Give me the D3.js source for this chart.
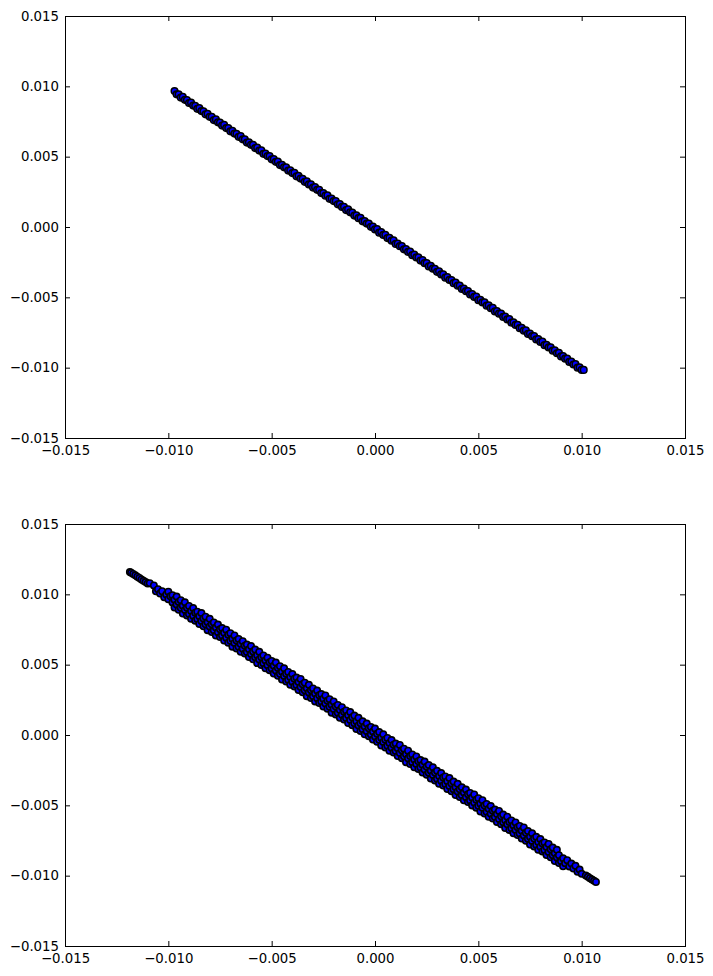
<!DOCTYPE html>
<html>
<head>
<meta charset="utf-8">
<script src="https://cdn.jsdelivr.net/npm/d3@7"></script>
<style>
  html, body { margin: 0; padding: 0; background: #ffffff; }
  svg { display: block; }
  text { font-family: "DejaVu Sans", sans-serif; }
</style>
</head>
<body>
<div id="chart"></div>
<script>
// ---------- data ----------
const tickValues = [-0.015, -0.010, -0.005, 0.000, 0.005, 0.010, 0.015];

// ----- top panel (narrow line of points) -----
const topX1 = [-0.0097,-0.0095,-0.0093,-0.0091,-0.0089,-0.0087,-0.0085,-0.0083,-0.0081,-0.0079,
  -0.0077,-0.0075,-0.0073,-0.0071,-0.0069,-0.0067,-0.0065,-0.0063,-0.0061,-0.0059,
  -0.0057,-0.0055,-0.0053,-0.0051,-0.0049,-0.0047,-0.0045,-0.0043,-0.0041,-0.0039,
  -0.0037,-0.0035,-0.0033,-0.0031,-0.0029,-0.0027,-0.0025,-0.0023,-0.0021,-0.0019,
  -0.0017,-0.0015,-0.0013,-0.0011,-0.0009,-0.0007,-0.0005,-0.0003,-0.0001,0.0001,
  0.0003,0.0005,0.0007,0.0009,0.0011,0.0013,0.0015,0.0017,0.0019,0.0021,
  0.0023,0.0025,0.0027,0.0029,0.0031,0.0033,0.0035,0.0037,0.0039,0.0041,
  0.0043,0.0045,0.0047,0.0049,0.0051,0.0053,0.0055,0.0057,0.0059,0.0061,
  0.0063,0.0065,0.0067,0.0069,0.0071,0.0073,0.0075,0.0077,0.0079,0.0081,
  0.0083,0.0085,0.0087,0.0089,0.0091,0.0093,0.0095,0.0097,0.0099,0.0101];
const topY1 = [0.00966,0.00943,0.00925,0.00902,0.00884,0.00862,0.00845,0.00822,0.00805,0.00783,
  0.00765,0.00742,0.00726,0.00703,0.00684,0.00663,0.00646,0.00624,0.00603,0.00585,
  0.00564,0.00545,0.00523,0.00505,0.00483,0.00465,0.00442,0.00425,0.00403,0.00386,
  0.00364,0.00343,0.00325,0.00303,0.00284,0.00265,0.00242,0.00225,0.00203,0.00185,
  0.00163,0.00144,0.00125,0.00103,0.00084,0.00065,0.00043,0.00025,0.00004,-0.00015,
  -0.00036,-0.00055,-0.00077,-0.00095,-0.00117,-0.00135,-0.00157,-0.00175,-0.00196,-0.00216,
  -0.00235,-0.00257,-0.00275,-0.00297,-0.00315,-0.00337,-0.00355,-0.00377,-0.00395,-0.00416,
  -0.00437,-0.00455,-0.00477,-0.00495,-0.00517,-0.00535,-0.00557,-0.00575,-0.00597,-0.00615,
  -0.00637,-0.00655,-0.00677,-0.00695,-0.00717,-0.00735,-0.00757,-0.00775,-0.00797,-0.00815,
  -0.00837,-0.00855,-0.00877,-0.00895,-0.00917,-0.00935,-0.00957,-0.00975,-0.00997,-0.01016];
const topX2 = [-0.0096,-0.0094,-0.0092,-0.0090,-0.0088,-0.0086,-0.0084,-0.0082,-0.0080,-0.0078,
  -0.0076,-0.0074,-0.0072,-0.0070,-0.0068,-0.0066,-0.0064,-0.0062,-0.0060,-0.0058,
  -0.0056,-0.0054,-0.0052,-0.0050,-0.0048,-0.0046,-0.0044,-0.0042,-0.0040,-0.0038,
  -0.0036,-0.0034,-0.0032,-0.0030,-0.0028,-0.0026,-0.0024,-0.0022,-0.0020,-0.0018,
  -0.0016,-0.0014,-0.0012,-0.0010,-0.0008,-0.0006,-0.0004,-0.0002,0.0000,0.0002,
  0.0004,0.0006,0.0008,0.0010,0.0012,0.0014,0.0016,0.0018,0.0020,0.0022,
  0.0024,0.0026,0.0028,0.0030,0.0032,0.0034,0.0036,0.0038,0.0040,0.0042,
  0.0044,0.0046,0.0048,0.0050,0.0052,0.0054,0.0056,0.0058,0.0060,0.0062,
  0.0064,0.0066,0.0068,0.0070,0.0072,0.0074,0.0076,0.0078,0.0080,0.0082,
  0.0084,0.0086,0.0088,0.0090,0.0092,0.0094,0.0096,0.0098,0.0100];
const topY2 = [0.00943,0.00920,0.00904,0.00881,0.00863,0.00840,0.00824,0.00801,0.00783,0.00760,
  0.00744,0.00721,0.00703,0.00680,0.00664,0.00641,0.00623,0.00600,0.00584,0.00561,
  0.00543,0.00520,0.00504,0.00481,0.00463,0.00440,0.00424,0.00401,0.00383,0.00360,
  0.00344,0.00321,0.00303,0.00280,0.00264,0.00241,0.00223,0.00200,0.00184,0.00161,
  0.00143,0.00120,0.00104,0.00081,0.00063,0.00040,0.00024,0.00001,-0.00017,-0.00040,
  -0.00056,-0.00079,-0.00097,-0.00120,-0.00136,-0.00159,-0.00177,-0.00200,-0.00216,-0.00239,
  -0.00257,-0.00280,-0.00296,-0.00319,-0.00337,-0.00360,-0.00376,-0.00399,-0.00417,-0.00440,
  -0.00456,-0.00479,-0.00497,-0.00520,-0.00536,-0.00559,-0.00577,-0.00600,-0.00616,-0.00639,
  -0.00657,-0.00680,-0.00696,-0.00719,-0.00737,-0.00760,-0.00776,-0.00799,-0.00817,-0.00840,
  -0.00856,-0.00879,-0.00897,-0.00920,-0.00936,-0.00959,-0.00977,-0.01000,-0.01016];

// ----- bottom panel (wider band of points) -----
const botTailX = [-0.01186,-0.0118,-0.0117,-0.0116,-0.0115,-0.0114,-0.0113,-0.0112,-0.0111,-0.0110,
  0.0102,0.0103,0.0104,0.0105,0.0106,0.01069];
const botTailY = [0.01159,0.01153,0.01145,0.01135,0.01125,0.01116,0.01106,0.01096,0.01087,0.01077,
  -0.00998,-0.01008,-0.01018,-0.01028,-0.01037,-0.01045];

const botAX = [-0.0100,-0.0098,-0.0096,-0.0094,-0.0092,-0.0090,-0.0088,-0.0086,-0.0084,-0.0082,
  -0.0080,-0.0078,-0.0076,-0.0074,-0.0072,-0.0070,-0.0068,-0.0066,-0.0064,-0.0062,
  -0.0060,-0.0058,-0.0056,-0.0054,-0.0052,-0.0050,-0.0048,-0.0046,-0.0044,-0.0042,
  -0.0040,-0.0038,-0.0036,-0.0034,-0.0032,-0.0030,-0.0028,-0.0026,-0.0024,-0.0022,
  -0.0020,-0.0018,-0.0016,-0.0014,-0.0012,-0.0010,-0.0008,-0.0006,-0.0004,-0.0002,
  0.0000,0.0002,0.0004,0.0006,0.0008,0.0010,0.0012,0.0014,0.0016,0.0018,
  0.0020,0.0022,0.0024,0.0026,0.0028,0.0030,0.0032,0.0034,0.0036,0.0038,
  0.0040,0.0042,0.0044,0.0046,0.0048,0.0050,0.0052,0.0054,0.0056,0.0058,
  0.0060,0.0062,0.0064,0.0066,0.0068,0.0070,0.0072,0.0074,0.0076,0.0078,
  0.0080,0.0082,0.0084,0.0086,0.0088];
const botAY = [0.01019,0.00994,0.00984,0.00958,0.00943,0.00917,0.00902,0.00877,0.00867,0.00841,
  0.00826,0.00800,0.00785,0.00760,0.00749,0.00724,0.00708,0.00683,0.00667,0.00643,
  0.00632,0.00607,0.00591,0.00566,0.00550,0.00526,0.00515,0.00489,0.00474,0.00448,
  0.00433,0.00408,0.00398,0.00372,0.00357,0.00331,0.00316,0.00291,0.00281,0.00255,
  0.00239,0.00214,0.00198,0.00174,0.00163,0.00138,0.00122,0.00097,0.00081,0.00057,
  0.00046,0.00021,0.00005,-0.00021,-0.00036,-0.00061,-0.00071,-0.00097,-0.00112,-0.00138,
  -0.00153,-0.00178,-0.00189,-0.00214,-0.00230,-0.00255,-0.00271,-0.00295,-0.00306,-0.00331,
  -0.00347,-0.00372,-0.00388,-0.00412,-0.00423,-0.00449,-0.00464,-0.00490,-0.00505,-0.00530,
  -0.00540,-0.00566,-0.00581,-0.00607,-0.00622,-0.00647,-0.00657,-0.00683,-0.00699,-0.00724,
  -0.00740,-0.00764,-0.00775,-0.00800,-0.00816];

const botBX = [-0.0109,-0.0107,-0.0105,-0.0103,-0.0101,-0.0099,-0.0097,-0.0095,-0.0093,-0.0091,
  -0.0089,-0.0087,-0.0085,-0.0083,-0.0081,-0.0079,-0.0077,-0.0075,-0.0073,-0.0071,
  -0.0069,-0.0067,-0.0065,-0.0063,-0.0061,-0.0059,-0.0057,-0.0055,-0.0053,-0.0051,
  -0.0049,-0.0047,-0.0045,-0.0043,-0.0041,-0.0039,-0.0037,-0.0035,-0.0033,-0.0031,
  -0.0029,-0.0027,-0.0025,-0.0023,-0.0021,-0.0019,-0.0017,-0.0015,-0.0013,-0.0011,
  -0.0009,-0.0007,-0.0005,-0.0003,-0.0001,0.0001,0.0003,0.0005,0.0007,0.0009,
  0.0011,0.0013,0.0015,0.0017,0.0019,0.0021,0.0023,0.0025,0.0027,0.0029,
  0.0031,0.0033,0.0035,0.0037,0.0039,0.0041,0.0043,0.0045,0.0047,0.0049,
  0.0051,0.0053,0.0055,0.0057,0.0059,0.0061,0.0063,0.0065,0.0067,0.0069,
  0.0071,0.0073,0.0075,0.0077,0.0079,0.0081,0.0083,0.0085,0.0087,0.0089,
  0.0091,0.0093,0.0095,0.0097,0.0099];
const botBY = [0.01079,0.01063,0.01036,0.01022,0.00999,0.00986,0.00962,0.00946,0.00919,0.00905,
  0.00882,0.00869,0.00845,0.00829,0.00801,0.00788,0.00764,0.00752,0.00727,0.00712,
  0.00684,0.00671,0.00647,0.00635,0.00610,0.00594,0.00567,0.00553,0.00530,0.00517,
  0.00493,0.00477,0.00450,0.00436,0.00413,0.00400,0.00376,0.00360,0.00332,0.00319,
  0.00295,0.00283,0.00258,0.00243,0.00215,0.00202,0.00178,0.00166,0.00141,0.00126,
  0.00098,0.00084,0.00061,0.00048,0.00024,0.00008,-0.00019,-0.00033,-0.00056,-0.00069,
  -0.00094,-0.00109,-0.00137,-0.00150,-0.00174,-0.00186,-0.00211,-0.00226,-0.00254,-0.00267,
  -0.00291,-0.00303,-0.00328,-0.00344,-0.00371,-0.00385,-0.00408,-0.00421,-0.00445,-0.00461,
  -0.00488,-0.00502,-0.00525,-0.00538,-0.00562,-0.00578,-0.00606,-0.00619,-0.00643,-0.00655,
  -0.00680,-0.00695,-0.00723,-0.00736,-0.00760,-0.00772,-0.00797,-0.00813,-0.00840,-0.00854,
  -0.00877,-0.00890,-0.00914,-0.00930,-0.00957];

const botCX = [-0.0106,-0.0104,-0.0102,-0.0100,-0.0098,-0.0096,-0.0094,-0.0092,-0.0090,-0.0088,
  -0.0086,-0.0084,-0.0082,-0.0080,-0.0078,-0.0076,-0.0074,-0.0072,-0.0070,-0.0068,
  -0.0066,-0.0064,-0.0062,-0.0060,-0.0058,-0.0056,-0.0054,-0.0052,-0.0050,-0.0048,
  -0.0046,-0.0044,-0.0042,-0.0040,-0.0038,-0.0036,-0.0034,-0.0032,-0.0030,-0.0028,
  -0.0026,-0.0024,-0.0022,-0.0020,-0.0018,-0.0016,-0.0014,-0.0012,-0.0010,-0.0008,
  -0.0006,-0.0004,-0.0002,0.0000,0.0002,0.0004,0.0006,0.0008,0.0010,0.0012,
  0.0014,0.0016,0.0018,0.0020,0.0022,0.0024,0.0026,0.0028,0.0030,0.0032,
  0.0034,0.0036,0.0038,0.0040,0.0042,0.0044,0.0046,0.0048,0.0050,0.0052,
  0.0054,0.0056,0.0058,0.0060,0.0062,0.0064,0.0066,0.0068,0.0070,0.0072,
  0.0074,0.0076,0.0078,0.0080,0.0082,0.0084,0.0086,0.0088,0.0090,0.0092,
  0.0094,0.0096,0.0098,0.0100];
const botCY = [0.01022,0.01006,0.00979,0.00965,0.00942,0.00927,0.00904,0.00889,0.00861,0.00848,
  0.00824,0.00810,0.00787,0.00772,0.00744,0.00731,0.00707,0.00692,0.00670,0.00654,
  0.00627,0.00613,0.00590,0.00575,0.00553,0.00537,0.00510,0.00496,0.00473,0.00458,
  0.00435,0.00420,0.00392,0.00379,0.00355,0.00341,0.00318,0.00303,0.00275,0.00262,
  0.00238,0.00224,0.00201,0.00185,0.00158,0.00144,0.00121,0.00106,0.00084,0.00068,
  0.00041,0.00027,0.00004,-0.00011,-0.00034,-0.00049,-0.00077,-0.00090,-0.00114,-0.00128,
  -0.00151,-0.00166,-0.00194,-0.00207,-0.00231,-0.00246,-0.00268,-0.00284,-0.00311,-0.00325,
  -0.00348,-0.00363,-0.00385,-0.00401,-0.00428,-0.00442,-0.00465,-0.00480,-0.00503,-0.00518,
  -0.00546,-0.00559,-0.00583,-0.00597,-0.00620,-0.00635,-0.00663,-0.00676,-0.00700,-0.00714,
  -0.00737,-0.00753,-0.00780,-0.00794,-0.00817,-0.00832,-0.00854,-0.00870,-0.00897,-0.00911,
  -0.00934,-0.00949,-0.00972,-0.00987];

const botDX = [-0.0097,-0.0095,-0.0093,-0.0091,-0.0089,-0.0087,-0.0085,-0.0083,-0.0081,-0.0079,
  -0.0077,-0.0075,-0.0073,-0.0071,-0.0069,-0.0067,-0.0065,-0.0063,-0.0061,-0.0059,
  -0.0057,-0.0055,-0.0053,-0.0051,-0.0049,-0.0047,-0.0045,-0.0043,-0.0041,-0.0039,
  -0.0037,-0.0035,-0.0033,-0.0031,-0.0029,-0.0027,-0.0025,-0.0023,-0.0021,-0.0019,
  -0.0017,-0.0015,-0.0013,-0.0011,-0.0009,-0.0007,-0.0005,-0.0003,-0.0001,0.0001,
  0.0003,0.0005,0.0007,0.0009,0.0011,0.0013,0.0015,0.0017,0.0019,0.0021,
  0.0023,0.0025,0.0027,0.0029,0.0031,0.0033,0.0035,0.0037,0.0039,0.0041,
  0.0043,0.0045,0.0047,0.0049,0.0051,0.0053,0.0055,0.0057,0.0059,0.0061,
  0.0063,0.0065,0.0067,0.0069,0.0071,0.0073,0.0075,0.0077,0.0079,0.0081,
  0.0083,0.0085,0.0087,0.0089,0.0091];
const botDY = [0.00906,0.00890,0.00863,0.00849,0.00826,0.00813,0.00789,0.00773,0.00745,0.00732,
  0.00708,0.00696,0.00671,0.00656,0.00628,0.00615,0.00591,0.00579,0.00554,0.00538,
  0.00511,0.00497,0.00474,0.00461,0.00437,0.00421,0.00394,0.00380,0.00357,0.00344,
  0.00320,0.00304,0.00276,0.00263,0.00239,0.00227,0.00202,0.00187,0.00159,0.00146,
  0.00122,0.00110,0.00085,0.00070,0.00042,0.00028,0.00005,-0.00008,-0.00032,-0.00048,
  -0.00075,-0.00089,-0.00112,-0.00125,-0.00150,-0.00165,-0.00193,-0.00206,-0.00230,-0.00242,
  -0.00267,-0.00282,-0.00310,-0.00323,-0.00347,-0.00359,-0.00384,-0.00400,-0.00427,-0.00441,
  -0.00464,-0.00477,-0.00501,-0.00517,-0.00544,-0.00558,-0.00581,-0.00594,-0.00618,-0.00634,
  -0.00662,-0.00675,-0.00699,-0.00711,-0.00736,-0.00751,-0.00779,-0.00792,-0.00816,-0.00828,
  -0.00853,-0.00869,-0.00896,-0.00910,-0.00933];

// ---------- layout ----------
const W = 713, H = 976;
const fmt = d3.format(".3f");
const zip = (xs, ys) => xs.map((v, i) => ({ x: v, y: ys[i] }));

const panels = [
  { pts: [].concat(zip(topX1, topY1), zip(topX2, topY2)),
    left: 65, top: 16, width: 620, height: 422, r: 3.3, sw: 1.5 },
  { pts: [].concat(zip(botTailX, botTailY), zip(botAX, botAY), zip(botBX, botBY),
                   zip(botCX, botCY), zip(botDX, botDY)),
    left: 65, top: 524, width: 620, height: 422, r: 3.2, sw: 1.6 }
];

const svg = d3.select("#chart").append("svg")
  .attr("width", W).attr("height", H);

panels.forEach(p => {
  const x = d3.scaleLinear().domain([-0.015, 0.015]).range([0, p.width]);
  const y = d3.scaleLinear().domain([-0.015, 0.015]).range([p.height, 0]);
  const g = svg.append("g").attr("transform", `translate(${p.left},${p.top})`);

  const pts = p.pts.slice().sort((a, b) => d3.ascending(a.x, b.x));

  const clipId = "clip" + p.top;
  g.append("clipPath").attr("id", clipId)
    .append("rect").attr("width", p.width).attr("height", p.height);

  g.append("g").attr("clip-path", `url(#${clipId})`)
    .selectAll("circle").data(pts).join("circle")
    .attr("cx", d => x(d.x))
    .attr("cy", d => y(d.y))
    .attr("r", p.r)
    .attr("fill", "#0000ff")
    .attr("stroke", "#000000")
    .attr("stroke-width", p.sw);

  const styleAxis = sel => {
    sel.select(".domain").remove();
    sel.selectAll(".tick line").attr("stroke", "#000").attr("stroke-width", 1);
    sel.selectAll(".tick text")
      .attr("font-family", "'DejaVu Sans', sans-serif")
      .attr("font-size", "13.3px")
      .attr("fill", "#000");
  };

  g.append("g").attr("transform", `translate(0,${p.height})`)
    .call(d3.axisBottom(x).tickValues(tickValues).tickFormat(fmt)
      .tickSize(-5).tickSizeOuter(0).tickPadding(8))
    .call(styleAxis);

  g.append("g")
    .call(d3.axisTop(x).tickValues(tickValues).tickFormat("")
      .tickSize(-5).tickSizeOuter(0))
    .call(styleAxis);

  g.append("g")
    .call(d3.axisLeft(y).tickValues(tickValues).tickFormat(fmt)
      .tickSize(-5).tickSizeOuter(0).tickPadding(6))
    .call(styleAxis);

  g.append("g").attr("transform", `translate(${p.width},0)`)
    .call(d3.axisRight(y).tickValues(tickValues).tickFormat("")
      .tickSize(-5).tickSizeOuter(0))
    .call(styleAxis);

  g.append("rect")
    .attr("x", 0.5).attr("y", 0.5)
    .attr("width", p.width).attr("height", p.height)
    .attr("fill", "none").attr("stroke", "#000").attr("stroke-width", 1);
});
</script>
</body>
</html>
